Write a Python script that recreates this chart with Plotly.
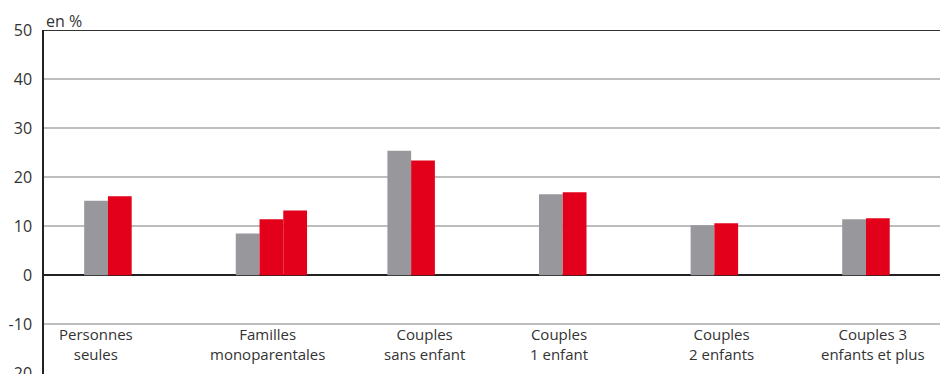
import plotly.graph_objects as go

# Household types (two-line category labels)
categories = [
    "Personnes<br>seules",
    "Familles<br>monoparentales",
    "Couples<br>sans enfant",
    "Couples<br>1 enfant",
    "Couples<br>2 enfants",
    "Couples 3<br>enfants et plus",
]

# Shares in %
series_grey = [15.2, 8.5, 25.4, 16.5, 10.2, 11.4]
series_red = [16.1, 11.4, 23.4, 16.9, 10.6, 11.6]
series_red_extra = [None, 13.2, None, None, None, None]

y_ticks = [-20, -10, 0, 10, 20, 30, 40, 50]
y_tick_labels = ["-20", "-10", "0", "10", "20", "30", "40", "50"]

# horizontal nudges (px) for the category labels written inside the plot
label_shift = [-24, -4, 1, -16, -5, -5]

GREY = "#98979c"
RED = "#e2001a"
FONT = "Open Sans"
TXT = "#333333"

x = list(range(len(categories)))

fig = go.Figure()
fig.add_trace(go.Bar(x=x, y=series_grey, marker=dict(color=GREY, line_width=0)))
fig.add_trace(go.Bar(x=x, y=series_red, marker=dict(color=RED, line_width=0)))
fig.add_trace(go.Bar(x=x, y=series_red_extra, marker=dict(color=RED, line_width=0)))

# category labels written inside the plot, between -10 and -20
for i, (lab, dx) in enumerate(zip(categories, label_shift)):
    fig.add_annotation(
        x=i, y=-14.0, xref="x", yref="y", text=lab, showarrow=False,
        xshift=dx, yanchor="middle", align="center",
        font=dict(family=FONT, size=15, color=TXT),
    )

fig.add_annotation(
    x=0, y=1, xref="paper", yref="paper", xanchor="left", yanchor="bottom",
    text="en %", showarrow=False, xshift=0, yshift=-4,
    font=dict(family=FONT, size=16, color=TXT),
)

# frame: dark top line at 50
fig.add_shape(type="line", xref="paper", yref="y", x0=0, x1=1, y0=50, y1=50,
              line=dict(color="#333333", width=2))

fig.update_layout(
    width=940, height=374,
    margin=dict(l=44, r=0, t=30, b=0, autoexpand=False),
    paper_bgcolor="white", plot_bgcolor="white",
    barmode="group", bargap=0.53, bargroupgap=0,
    showlegend=False,
    font=dict(family=FONT, size=16, color=TXT),
    xaxis=dict(
        range=[-0.5, 5.41], showticklabels=False, showgrid=False,
        zeroline=False, ticks="", showline=False, automargin=False,
    ),
    yaxis=dict(
        range=[-20.15, 50], tickvals=y_ticks, ticktext=y_tick_labels, ticks="",
        showgrid=True, gridcolor="#bdbdbd", gridwidth=1.5,
        zeroline=True, zerolinecolor="#222222", zerolinewidth=2,
        showline=True, linecolor="#222222", linewidth=1.5,
        tickfont=dict(family=FONT, size=16, color=TXT),
        ticklabelstandoff=7, ticklabeloverflow="allow", automargin=False,
    ),
)

fig.write_html("out.html")
